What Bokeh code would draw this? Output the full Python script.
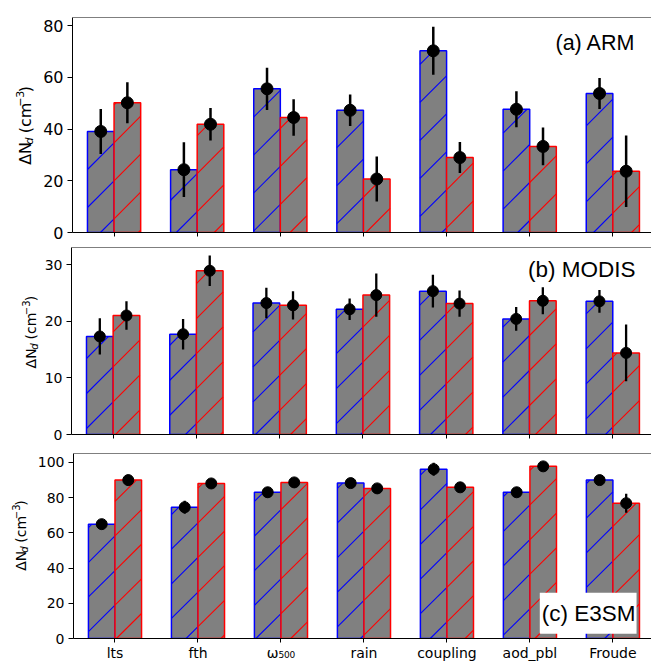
import math
from bokeh.plotting import figure
from bokeh.models import Range1d, Span, Label, FixedTicker
from bokeh.layouts import column, row
from bokeh.embed import file_html
from bokeh.resources import INLINE

categories = ["lts", "fth", "ω₅₀₀", "rain", "coupling", "aod_pbl", "Froude"]

# (a) ARM
arm_blue = [39.1, 24.3, 55.6, 47.3, 70.3, 47.7, 53.8]
arm_blue_err = [8.7, 10.6, 8.2, 6.1, 9.3, 7.0, 6.0]
arm_red = [50.2, 41.9, 44.5, 20.7, 29.0, 33.3, 23.7]
arm_red_err = [7.9, 6.3, 7.1, 8.7, 6.0, 7.3, 13.8]

# (b) MODIS
modis_blue = [17.3, 17.7, 23.2, 22.1, 25.3, 20.4, 23.5]
modis_blue_err = [3.2, 2.7, 2.7, 1.9, 2.9, 2.1, 2.0]
modis_red = [21.0, 28.9, 22.8, 24.6, 23.1, 23.6, 14.4]
modis_red_err = [2.5, 2.7, 2.5, 3.8, 2.3, 2.4, 5.0]

# (c) E3SM
e3sm_blue = [64.9, 74.5, 83.0, 88.2, 96.1, 83.0, 89.9]
e3sm_blue_err = [2.8, 3.7, 3.0, 2.0, 3.7, 1.5, 1.5]
e3sm_red = [89.9, 88.0, 88.6, 85.2, 85.8, 97.7, 76.8]
e3sm_red_err = [3.0, 2.4, 2.6, 2.0, 1.5, 2.0, 5.4]

arm_ticks = [0, 20, 40, 60, 80]
modis_ticks = [0, 10, 20, 30]
e3sm_ticks = [0, 20, 40, 60, 80, 100]

BAR_W = 0.32
X0, X1 = -0.5, 6.465
FRAME_W = 580
PX = FRAME_W / (X1 - X0)

NBSP = "\u00a0"
# DejaVu Sans advance widths (em)
ADV = {"Δ": .684, "N": .748, "d": .635, NBSP: .318, "(": .390, "c": .550,
       "m": .974, "−": .838, "3": .636, ")": .390}


def text_w(s, fs):
    return sum(ADV[ch] for ch in s) * fs


def make_label_fig(W, H, cx, cy_top, fs):
    f = figure(width=W, height=H, x_range=Range1d(0, W), y_range=Range1d(0, H),
               min_border=0, toolbar_location=None, output_backend="svg",
               x_axis_location=None, y_axis_location=None)
    f.outline_line_color = None
    f.grid.visible = False
    f.border_fill_color = "white"
    f.background_fill_color = "white"
    cy = H - cy_top
    small = round(fs * 0.7)
    # (text, size, style, baseline drop in px toward screen right, gap after)
    pieces = [("ΔN", fs, "normal", 0.0, 0.5),
              ("d", small, "italic", 0.18 * fs, 0.0),
              (NBSP + "(cm", fs, "normal", 0.0, 0.5),
              ("−3", small, "normal", -0.42 * fs, 0.5),
              (")", fs, "normal", 0.0, 0.0)]
    total = sum(text_w(t, s) + g for t, s, _, _, g in pieces)
    pos = -total / 2
    for t, s, style, drop, gap in pieces:
        ax = cx + 0.346 * fs + drop - 0.346 * s
        f.add_layout(Label(x=ax, y=cy + pos, text=t, angle=math.pi / 2,
                           text_font="DejaVu Sans", text_font_size=f"{s}px",
                           text_font_style=style, text_align="left",
                           text_baseline="middle", text_color="black"))
        pos += text_w(t, s) + gap
    return f


def hatch_segments(xcenters, tops, py, spacing, phase):
    x0s, y0s, x1s, y1s = [], [], [], []
    for xc, top in zip(xcenters, tops):
        xl = (xc - BAR_W / 2 - X0) * PX
        xr = (xc + BAR_W / 2 - X0) * PX
        h = top * py
        kmin = math.floor((xl - h - phase) / spacing)
        kmax = math.ceil((xr - phase) / spacing)
        for k in range(kmin, kmax + 1):
            c = phase + k * spacing
            a = max(xl, c)
            b = min(xr, c + h)
            if b - a > 0.5:
                x0s.append(X0 + a / PX)
                y0s.append((a - c) / py)
                x1s.append(X0 + b / PX)
                y1s.append((b - c) / py)
    return x0s, y0s, x1s, y1s


def make_panel(blue, blue_err, red, red_err, ymax, yticks, width, height,
               left_b, top_b, bottom_b, frame_h, tick_fs, show_x,
               hatch_sp, hatch_ph, dot, ew):
    p = figure(width=width, height=height, x_range=Range1d(X0, X1),
               y_range=Range1d(0, ymax), output_backend="svg",
               toolbar_location=None, min_border_left=left_b,
               min_border_right=0, min_border_top=top_b,
               min_border_bottom=bottom_b)
    p.outline_line_color = None
    p.grid.visible = False
    p.background_fill_color = "white"
    p.border_fill_color = "white"

    idx = list(range(len(categories)))
    xb = [i - BAR_W / 2 for i in idx]
    xr = [i + BAR_W / 2 for i in idx]
    py = frame_h / ymax

    for xs, vals, col in ((xb, blue, "blue"), (xr, red, "red")):
        p.vbar(x=xs, top=vals, width=BAR_W, bottom=0, fill_color="#808080",
               line_color=None)
        hx0, hy0, hx1, hy1 = hatch_segments(xs, vals, py, hatch_sp, hatch_ph)
        p.segment(x0=hx0, y0=hy0, x1=hx1, y1=hy1, line_color=col,
                  line_width=1.1)
        p.vbar(x=xs, top=vals, width=BAR_W, bottom=0, fill_color=None,
               line_color=col, line_width=1.5)

    for xs, vals, errs in ((xb, blue, blue_err), (xr, red, red_err)):
        p.segment(x0=xs, x1=xs, y0=[v - e for v, e in zip(vals, errs)],
                  y1=[v + e for v, e in zip(vals, errs)],
                  line_color="black", line_width=ew)
        p.scatter(x=xs, y=vals, size=dot, fill_color="black", line_color="black")

    p.add_layout(Span(location=ymax, dimension="width", line_color="black",
                      line_width=1))

    p.yaxis.ticker = FixedTicker(ticks=yticks)
    p.yaxis.minor_tick_line_color = None
    p.yaxis.major_tick_in = 0
    p.yaxis.major_tick_out = 5
    p.yaxis.major_label_standoff = 4
    p.yaxis.major_label_text_font = "DejaVu Sans"
    p.yaxis.major_label_text_font_size = f"{tick_fs}px"
    p.yaxis.major_label_text_color = "black"
    p.yaxis.axis_line_color = "black"

    p.xaxis.ticker = FixedTicker(ticks=idx)
    p.xaxis.minor_tick_line_color = None
    p.xaxis.major_tick_in = 0
    p.xaxis.major_tick_out = 4
    p.xaxis.axis_line_color = "black"
    if show_x:
        p.xaxis.major_label_overrides = {i: c for i, c in zip(idx, categories)}
        p.xaxis.major_label_text_font = "DejaVu Sans"
        p.xaxis.major_label_text_font_size = "14px"
        p.xaxis.major_label_text_color = "black"
        p.xaxis.major_label_standoff = 2
    else:
        p.xaxis.major_label_text_font_size = "0px"
        p.xaxis.major_label_text_color = None
        p.xaxis.major_label_standoff = 0
    return p


# panel geometry (px)
L1, L2, L3 = 40, 40, 34
H1, H2, H3 = 247, 206, 210
F1, F2, F3 = 215, 187, 187

p1 = make_panel(arm_blue, arm_blue_err, arm_red, arm_red_err, 83.2, arm_ticks,
                651 - L1, H1, 71 - L1, 17, 15, F1, 16, False, 38, 28, 12, 2.5)
p2 = make_panel(modis_blue, modis_blue_err, modis_red, modis_red_err, 33.0,
                modis_ticks, 651 - L2, H2, 71 - L2, 0, 19, F2, 14, False,
                35, 9, 11, 2.3)
p3 = make_panel(e3sm_blue, e3sm_blue_err, e3sm_red, e3sm_red_err, 105.0,
                e3sm_ticks, 651 - L3, H3, 71 - L3, 0, 0, F3, 14, True,
                35, 8, 11, 2.3)

l1 = make_label_fig(L1, H1, 24.5, 17 + F1 / 2, 16)
l2 = make_label_fig(L2, H2, 30, F2 / 2, 14)
l3 = make_label_fig(L3, H3, 20, F3 / 2, 14)

p1.add_layout(Label(x=X0 + (635 - 71) / PX, y=73.5, text="(a) ARM",
                    text_align="right", text_baseline="middle",
                    text_font="Liberation Sans", text_font_size="21.5px",
                    text_color="black"))
p2.add_layout(Label(x=X0 + (635 - 71) / PX, y=29.1, text="(b) MODIS",
                    text_align="right", text_baseline="middle",
                    text_font="Liberation Sans", text_font_size="22.5px",
                    text_color="black"))
p3.add_layout(Label(x=X0 + (636 - 71) / PX, y=14.4, text="(c) E3SM",
                    text_align="right", text_baseline="middle",
                    text_font="Liberation Sans", text_font_size="22.5px",
                    text_color="black", background_fill_color="white",
                    padding=dict(left=2, right=1, top=8, bottom=8)))

layout = column(row(l1, p1, spacing=0), row(l2, p2, spacing=0),
                row(l3, p3, spacing=0), spacing=0)
open("out.html", "w").write(file_html(layout, INLINE))
